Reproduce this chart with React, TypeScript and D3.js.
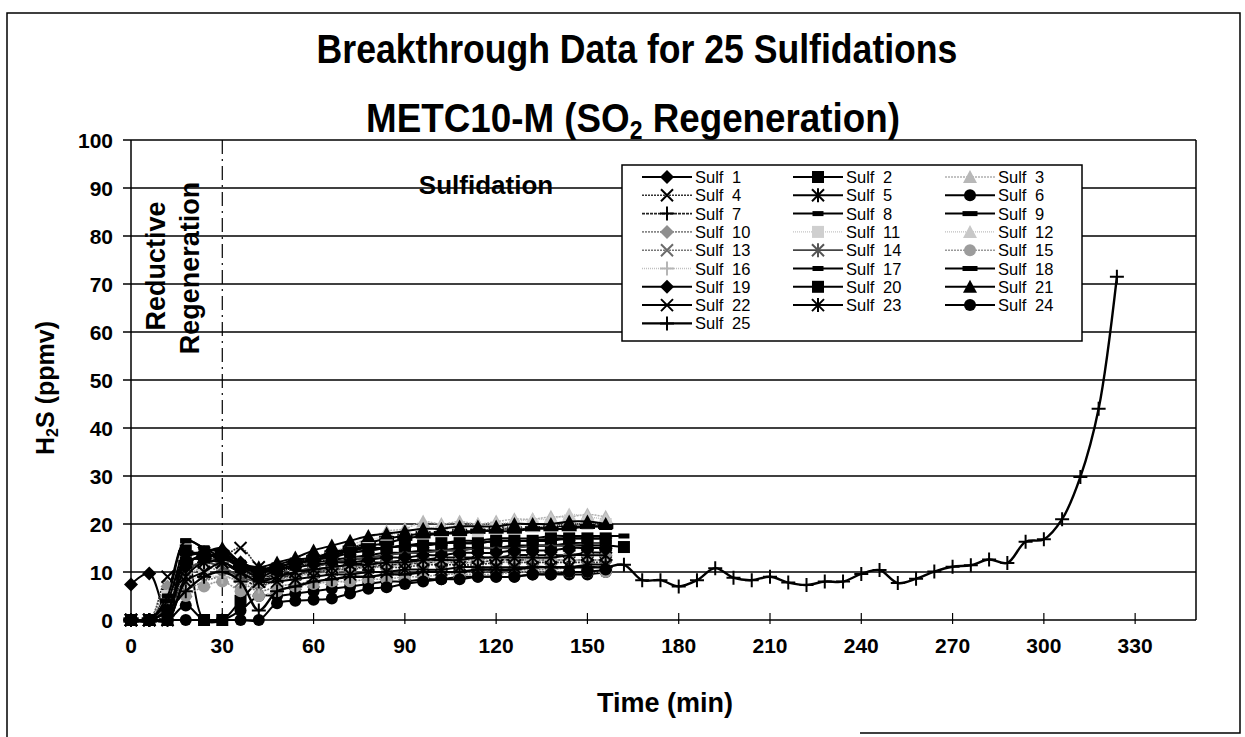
import React from "react";
import * as d3 from "d3";

// Sampling times (min) for the sulfidation runs
const TIMES = [0, 6, 12, 18, 24, 30, 36, 42, 48, 54, 60, 66, 72, 78, 84, 90, 96, 102, 108, 114, 120, 126, 132, 138, 144, 150, 156];
const TIMES_LONG = [0, 6, 12, 18, 24, 30, 36, 42, 48, 54, 60, 66, 72, 78, 84, 90, 96, 102, 108, 114, 120, 126, 132, 138, 144, 150, 156, 162];
const TIMES_25 = [0, 6, 12, 18, 24, 30, 36, 42, 48, 54, 60, 66, 72, 78, 84, 90, 96, 102, 108, 114, 120, 126, 132, 138, 144, 150, 156,
  162, 168, 174, 180, 186, 192, 198, 204, 210, 216, 222, 228, 234, 240, 246, 252, 258, 264, 270, 276, 282, 288, 294, 300, 306, 312, 318, 324];

// H2S outlet concentration (ppmv)
const sulf1 = [7.4, 9.7, 1, 12, 13, 12, 10, 9, 9.5, 10, 10.5, 11, 11.5, 12, 12, 12.5, 12.5, 13, 13, 13, 13, 13.5, 13.5, 13.5, 13.5, 14, 14];
const sulf2 = [0, 0, 0, 14.5, 0, 0, 4, 8, 9, 10, 11, 12, 12.5, 13, 13.5, 14, 14, 14.5, 14.5, 15, 15, 15, 15.5, 15.5, 15.5, 15.5, 15.5, 15.2];
const sulf3 = [0, 0, 6, 10, 12, 13, 11, 10, 11, 12, 13, 14, 15.5, 17, 18.5, 19, 20.5, 20, 20.5, 20, 20.5, 21, 21, 21.5, 21.5, 22, 21.5];
const sulf4 = [0, 0, 9, 11, 12, 13, 15, 11, 9, 9.5, 10, 10.5, 10.5, 11, 11, 11, 11.5, 11.5, 11.5, 11.5, 12, 12, 12, 12, 12, 12, 12];
const sulf5 = [0, 0, 4, 13, 14, 12, 10, 9, 10, 11, 12, 12.5, 13, 13.5, 14, 14, 14.5, 14.5, 15, 15, 15, 15.5, 15.5, 15.5, 16, 16, 16];
const sulf6 = [0, 0, 0, 3, 0, 0, 2, 5, 5, 5.5, 6, 6.5, 7, 7.5, 8, 8, 8.5, 8.5, 9, 9, 9, 9, 9.5, 9.5, 9.5, 9.5, 10];
const sulf7 = [0, 0, 1, 10, 12, 11, 9, 7, 8.5, 9.5, 10, 10.5, 11, 11, 11.5, 11.5, 12, 12, 12, 12, 12.5, 12.5, 12.5, 12.5, 12.5, 12.5, 12.5];
const sulf8 = [0, 0, 6, 16.5, 15, 14, 12, 10, 11, 12, 13, 13.5, 14, 14.5, 15, 15.5, 16, 16, 16.5, 16.5, 17, 17, 17, 17.5, 17.5, 17.5, 17.5, 17.5];
const sulf9 = [0, 0, 3, 12, 13, 14, 11, 10, 11, 12, 13, 14, 15, 16, 17, 17.5, 18, 18, 18.5, 18.5, 19, 19, 19, 19.5, 19.5, 19.5, 19.5];
const sulf10 = [0, 0, 7, 9, 11, 10, 9, 8, 8.5, 9, 10, 10.5, 11, 11.5, 12, 12, 12, 12.5, 12.5, 12.5, 13, 13, 13, 13, 13.5, 13.5, 13.5];
const sulf11 = [0, 0, 5, 9, 11, 12, 10, 9, 10, 11, 12, 13, 14, 15, 16, 17, 17.5, 18, 18, 18.5, 19, 19, 19.5, 19.5, 20, 20, 20];
const sulf12 = [0, 0, 5, 8, 10, 12, 10, 9, 10, 12, 13, 14.5, 15, 16.5, 17.5, 18.5, 19, 19.5, 19.5, 20, 20, 20.5, 21, 21, 22, 21.5, 21];
const sulf13 = [0, 0, 3, 6, 8, 9, 8, 6, 7, 7.5, 8, 8.5, 9, 9, 9.5, 9.5, 10, 10, 10, 10, 10.5, 10.5, 10.5, 10.5, 11, 11, 11];
const sulf14 = [0, 0, 3, 10, 12, 11, 9, 8, 9, 10, 11, 12, 12.5, 13, 13.5, 14, 14, 14.5, 14.5, 15, 15, 15, 15.5, 15.5, 15.5, 16, 16];
const sulf15 = [0, 0, 3, 5, 7, 8, 6, 5, 6, 7, 7.5, 8, 8, 8.5, 8.5, 9, 9, 9.5, 9.5, 9.5, 9.5, 10, 10, 10, 10, 10, 10];
const sulf16 = [0, 0, 4, 8, 9, 9, 8, 7, 8, 9, 9.5, 10, 10.5, 11, 11, 11.5, 11.5, 12, 12, 12, 12, 12, 12.5, 12.5, 12.5, 12.5, 12.5];
const sulf17 = [0, 0, 5, 16.5, 15, 13, 12, 10.5, 11.5, 12.5, 13, 14, 14.5, 15, 15, 15.5, 15.5, 16, 16, 16, 16.5, 16.5, 16.5, 16.5, 17, 17, 17];
const sulf18 = [0, 0, 4, 14, 13.5, 13, 11, 10.5, 11, 12, 12.5, 13.5, 14.5, 15.5, 16, 17, 17.5, 18, 18, 18.5, 18.5, 18.5, 19, 19, 19, 19.5, 19.5];
const sulf19 = [0, 0, 2, 11, 14, 14.5, 12, 10, 10.5, 11, 11.5, 12, 12, 12.5, 13, 13, 13.5, 13.5, 14, 14, 14, 14.5, 14.5, 14.5, 15, 15, 15];
const sulf20 = [0, 0, 2, 12, 13, 13.5, 11, 9, 10.5, 11.5, 12.5, 13, 14, 14.5, 15, 15.5, 15.5, 16, 16, 16, 16.5, 16.5, 16.5, 17, 17, 17, 17];
const sulf21 = [0, 0, 2, 13, 14, 15, 12, 11, 12, 13, 14.5, 15.5, 16.5, 17.5, 18, 18.5, 19, 19, 19.5, 19.5, 19.5, 20, 20, 20, 20.5, 20.5, 20];
const sulf22 = [0, 0, 0, 8, 10, 12, 10, 8, 8, 8.5, 9, 9.5, 9.5, 10, 10, 10.5, 10.5, 10.5, 11, 11, 11, 11, 11, 11, 11, 11.5, 11.5];
const sulf23 = [0, 0, 0, 9, 12, 12, 10, 8, 9, 10, 10.5, 11, 11.5, 11.5, 12, 12, 12.5, 12.5, 12.5, 13, 13, 13, 13, 13, 13.5, 13.5, 13.5];
const sulf24 = [0, 0, 0, 0, 0, 0, 0, 0, 3.5, 4, 4.2, 4.5, 5.5, 6.5, 6.8, 7.5, 8, 8.5, 8.5, 9, 9, 9, 9.5, 9.5, 10, 10, 10.5];
const sulf25 = [0, 0, 2, 6, 9, 10, 8, 2, 6, 7, 8, 8.5, 9, 9, 9.5, 9.5, 10, 10, 10, 10.5, 10.5, 10.5, 11, 11, 11, 11, 11,
  11.5, 8.3, 8.3, 7, 8.3, 10.8, 8.8, 8.3, 9, 7.8, 7.3, 8, 8, 9.6, 10.4, 7.7, 8.6, 10.1, 11.1, 11.4, 12.6, 11.9, 16.3, 16.8, 21, 29.8, 44, 71.5];

const Y_TICKS = [0, 10, 20, 30, 40, 50, 60, 70, 80, 90, 100];
const X_TICKS = [0, 30, 60, 90, 120, 150, 180, 210, 240, 270, 300, 330];
const REGEN_END = 30;

type Marker = "diamond" | "square" | "triangle" | "x" | "star" | "circle" | "plus" | "dash" | "bar";
interface Style { marker: Marker; color: string; line: string; dash?: string; width: number; }

const BLACK = "#000";
const STYLES: Style[] = [
  { marker: "diamond", color: BLACK, line: BLACK, width: 2 },
  { marker: "square", color: BLACK, line: BLACK, width: 2 },
  { marker: "triangle", color: "#b8b8b8", line: "#b0b0b0", dash: "2 1", width: 1.5 },
  { marker: "x", color: BLACK, line: "#333", dash: "2 1", width: 1.6 },
  { marker: "star", color: BLACK, line: BLACK, width: 2 },
  { marker: "circle", color: BLACK, line: BLACK, width: 2 },
  { marker: "plus", color: BLACK, line: "#222", dash: "3 1", width: 1.6 },
  { marker: "dash", color: BLACK, line: BLACK, width: 2 },
  { marker: "bar", color: BLACK, line: BLACK, width: 2 },
  { marker: "diamond", color: "#8f8f8f", line: "#888", dash: "2 1", width: 1.6 },
  { marker: "square", color: "#cfcfcf", line: "#c4c4c4", dash: "1 1", width: 1.4 },
  { marker: "triangle", color: "#c8c8c8", line: "#bdbdbd", dash: "1 1", width: 1.4 },
  { marker: "x", color: "#6a6a6a", line: "#777", dash: "2 1", width: 1.6 },
  { marker: "star", color: "#555", line: "#444", width: 1.8 },
  { marker: "circle", color: "#9c9c9c", line: "#999", dash: "2 1", width: 1.6 },
  { marker: "plus", color: "#b5b5b5", line: "#c0c0c0", dash: "1 1", width: 1.4 },
  { marker: "dash", color: BLACK, line: BLACK, width: 2 },
  { marker: "bar", color: BLACK, line: BLACK, width: 2 },
  { marker: "diamond", color: BLACK, line: BLACK, width: 2 },
  { marker: "square", color: BLACK, line: BLACK, width: 2 },
  { marker: "triangle", color: BLACK, line: BLACK, width: 2 },
  { marker: "x", color: BLACK, line: BLACK, width: 2 },
  { marker: "star", color: BLACK, line: BLACK, width: 2 },
  { marker: "circle", color: BLACK, line: BLACK, width: 2 },
  { marker: "plus", color: BLACK, line: BLACK, width: 2.4 },
];

const VALUES = [sulf1, sulf2, sulf3, sulf4, sulf5, sulf6, sulf7, sulf8, sulf9, sulf10, sulf11, sulf12, sulf13,
  sulf14, sulf15, sulf16, sulf17, sulf18, sulf19, sulf20, sulf21, sulf22, sulf23, sulf24, sulf25];

const SERIES = VALUES.map((vals, i) => {
  const times = vals.length === TIMES_25.length ? TIMES_25 : vals.length === TIMES_LONG.length ? TIMES_LONG : TIMES;
  return {
    name: `Sulf ${i + 1}`,
    points: vals.map((v, j) => ({ t: times[j], v })),
    style: STYLES[i],
  };
});

const SANS = "'Liberation Sans', Arial, Helvetica, sans-serif";

const x = d3.scaleLinear().domain([0, 350]).range([131, 1196]);
const y = d3.scaleLinear().domain([0, 100]).range([620, 140]);

const lineGen = d3
  .line<{ t: number; v: number }>()
  .x((d) => x(d.t))
  .y((d) => y(d.v))
  .curve(d3.curveCatmullRom.alpha(0.5));

function MarkerShape({ m, cx, cy, color }: { m: Marker; cx: number; cy: number; color: string }) {
  const s = 6;
  switch (m) {
    case "diamond":
      return <path d={`M${cx},${cy - s - 1}L${cx + s + 1},${cy}L${cx},${cy + s + 1}L${cx - s - 1},${cy}Z`} fill={color} />;
    case "square":
      return <rect x={cx - s} y={cy - s} width={2 * s} height={2 * s} fill={color} />;
    case "triangle":
      return <path d={`M${cx},${cy - s - 1}L${cx + s + 1},${cy + s}L${cx - s - 1},${cy + s}Z`} fill={color} />;
    case "circle":
      return <circle cx={cx} cy={cy} r={s} fill={color} />;
    case "x":
      return <path d={`M${cx - s},${cy - s}L${cx + s},${cy + s}M${cx - s},${cy + s}L${cx + s},${cy - s}`} stroke={color} strokeWidth={2} fill="none" />;
    case "star":
      return <path d={`M${cx - s},${cy - s}L${cx + s},${cy + s}M${cx - s},${cy + s}L${cx + s},${cy - s}M${cx},${cy - s - 1}V${cy + s + 1}`} stroke={color} strokeWidth={2} fill="none" />;
    case "plus":
      return <path d={`M${cx - s - 1},${cy}H${cx + s + 1}M${cx},${cy - s - 1}V${cy + s + 1}`} stroke={color} strokeWidth={2} fill="none" />;
    case "dash":
      return <rect x={cx - 5.5} y={cy - 2.5} width={11} height={5} fill={color} />;
    case "bar":
      return <rect x={cx - 7.5} y={cy - 2.5} width={15} height={5} fill={color} />;
  }
  return null;
}

const LEGEND_X = 622;
const LEGEND_Y = 165;
const LEGEND_W = 460;
const LEGEND_H = 176;
const LEGEND_COLS = [642, 793, 945];
const LEGEND_ROW0 = 177;
const LEGEND_ROW = 18.3;

export default function App() {
  return (
    <svg width={1245} height={737} style={{ position: "absolute", left: 0, top: 0, background: "#fff" }} fontFamily={SANS}>
      <rect x={0} y={0} width={1245} height={737} fill="#fff" />
      {/* outer chart border */}
      <path d="M7,737V13H1240V733H860" fill="none" stroke="#000" strokeWidth={1.5} />

      {/* titles, horizontally condensed bold */}
      <g transform="translate(637,63) scale(0.89,1)">
        <text x={0} y={0} textAnchor="middle" fontWeight="bold" fontSize={40}>
          Breakthrough Data for 25 Sulfidations
        </text>
      </g>
      <g transform="translate(633,132) scale(0.92,1)">
        <text x={0} y={0} textAnchor="middle" fontWeight="bold" fontSize={40}>
          METC10-M (SO<tspan fontSize={25} dy={7}>2</tspan>
          <tspan dy={-7}> Regeneration)</tspan>
        </text>
      </g>

      {/* horizontal gridlines and y ticks */}
      {Y_TICKS.map((v) => (
        <g key={`y${v}`}>
          <line x1={123} x2={x(350)} y1={y(v)} y2={y(v)} stroke="#000" strokeWidth={1.5} />
          <text x={113} y={y(v) + 7.5} textAnchor="end" fontWeight="bold" fontSize={21}>
            {v}
          </text>
        </g>
      ))}
      {/* plot-area sides */}
      <line x1={x(0)} x2={x(0)} y1={y(100)} y2={y(0)} stroke="#000" strokeWidth={1.5} />
      <line x1={x(350)} x2={x(350)} y1={y(100)} y2={y(0)} stroke="#000" strokeWidth={1.5} />

      {/* x ticks */}
      {X_TICKS.map((t) => (
        <g key={`x${t}`}>
          <line x1={x(t)} x2={x(t)} y1={y(0) - 7} y2={y(0) + 4} stroke="#000" strokeWidth={1.2} />
          <text x={x(t)} y={653} textAnchor="middle" fontWeight="bold" fontSize={21}>
            {t}
          </text>
        </g>
      ))}

      {/* axis titles */}
      <text x={665} y={712} textAnchor="middle" fontWeight="bold" fontSize={27} textLength={136} lengthAdjust="spacingAndGlyphs">
        Time (min)
      </text>
      <text transform="translate(54,388) rotate(-90)" textAnchor="middle" fontWeight="bold" fontSize={25}>
        H<tspan dy={4} fontSize={16}>2</tspan>
        <tspan dy={-4}>S (ppmv)</tspan>
      </text>

      {/* end of reductive regeneration */}
      <line x1={x(REGEN_END)} x2={x(REGEN_END)} y1={y(100)} y2={y(0)} stroke="#000" strokeWidth={1.2} strokeDasharray="14 5 2 5" />
      <text transform="translate(165,266) rotate(-90)" textAnchor="middle" fontWeight="bold" fontSize={27}>
        Reductive
      </text>
      <text transform="translate(199,268) rotate(-90)" textAnchor="middle" fontWeight="bold" fontSize={27}>
        Regeneration
      </text>
      <text x={486} y={194} textAnchor="middle" fontWeight="bold" fontSize={26}>
        Sulfidation
      </text>

      {/* series */}
      {SERIES.map((s) => (
        <g key={s.name}>
          <path
            d={lineGen(s.points) ?? ""}
            fill="none"
            stroke={s.style.line}
            strokeWidth={s.style.width}
            strokeDasharray={s.style.dash}
            strokeLinejoin="round"
          />
          {s.points.map((p, j) => (
            <MarkerShape key={j} m={s.style.marker} cx={x(p.t)} cy={y(p.v)} color={s.style.color} />
          ))}
        </g>
      ))}

      {/* legend */}
      <rect x={LEGEND_X} y={LEGEND_Y} width={LEGEND_W} height={LEGEND_H} fill="#fff" stroke="#000" strokeWidth={1.5} />
      {SERIES.map((s, i) => {
        const col = i % 3;
        const row = Math.floor(i / 3);
        const lx = LEGEND_COLS[col];
        const ly = LEGEND_ROW0 + row * LEGEND_ROW;
        return (
          <g key={`lg${i}`}>
            <line x1={lx} x2={lx + 50} y1={ly} y2={ly} stroke={s.style.line} strokeWidth={s.style.width} strokeDasharray={s.style.dash} />
            <MarkerShape m={s.style.marker} cx={lx + 25} cy={ly} color={s.style.color} />
            <text x={lx + 53} y={ly + 6} fontSize={16.5} wordSpacing={4}>
              {s.name}
            </text>
          </g>
        );
      })}
    </svg>
  );
}
